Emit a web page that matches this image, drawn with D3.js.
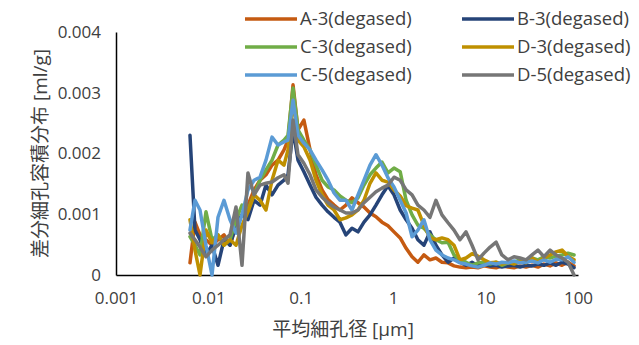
<!DOCTYPE html>
<html>
<head>
<meta charset="utf-8">
<script src="https://cdn.jsdelivr.net/npm/d3@7"></script>
<style>
  body { margin: 0; background: #fff; }
  text { font-family: "Open Sans", "Noto Sans CJK JP", sans-serif; fill: #404040; }
</style>
</head>
<body>
<div id="chart"></div>
<script>
// pore diameter (um), shared by all series
const diameters = [
  0.00632, 0.00716, 0.00811, 0.00942, 0.01094, 0.0127, 0.01475, 0.01713, 0.0199, 0.0231,
  0.0268, 0.0312, 0.0362, 0.042, 0.0488, 0.0567, 0.0658, 0.0727, 0.0824, 0.0933,
  0.108, 0.126, 0.146, 0.170, 0.197, 0.229, 0.265, 0.308, 0.358, 0.416,
  0.483, 0.561, 0.651, 0.756, 0.878, 1.02, 1.19, 1.38, 1.60, 1.85,
  2.15, 2.50, 2.90, 3.37, 3.92, 4.55, 5.28, 6.14, 7.13, 8.28,
  9.61, 11.2, 13.0, 15.0, 17.5, 20.3, 23.6, 27.4, 31.8, 36.9,
  42.8, 49.8, 57.8, 67.1, 78.0, 90.6
];

const seriesNames = ["A-3(degased)", "B-3(degased)", "C-3(degased)", "D-3(degased)", "C-5(degased)", "D-5(degased)"];
const seriesColors = ["#C55A11", "#264478", "#70AD47", "#BF9000", "#5B9BD5", "#767676"];

const a3 = [
  .00020,.00087,.00066,.00058,.00049,.00058,.00066,.00049,.00082,.00099,
  .00115,.00140,.00156,.00165,.00181,.00189,.00206,.00222,.00313,.00239,
  .00255,.00206,.00165,.00140,.00124,.00115,.00107,.00115,.00127,.00119,
  .00112,.00102,.00096,.00087,.00081,.00071,.00061,.00044,.00030,.00021,
  .00033,.00025,.00028,.00021,.00020,.00015,.00013,.00012,.00013,.00012,
  .00015,.00013,.00012,.00015,.00013,.00012,.00015,.00013,.00016,.00013,
  .00018,.00015,.00020,.00016,.00021,.00015
];
const b3 = [
  .00230,.00074,.00058,.00033,.00049,.00016,.00058,.00049,.00082,.00099,
  .00091,.00123,.00115,.00148,.00132,.00148,.00156,.00165,.00239,.00189,
  .00170,.00148,.00128,.00115,.00104,.00095,.00087,.00066,.00077,.00071,
  .00087,.00099,.00115,.00132,.00147,.00132,.00107,.00091,.00077,.00058,
  .00049,.00071,.00049,.00033,.00021,.00028,.00021,.00016,.00021,.00015,
  .00018,.00015,.00016,.00013,.00015,.00016,.00013,.00016,.00015,.00018,
  .00016,.00020,.00016,.00021,.00018,.00012
];
const c3 = [
  .00063,.00049,.00033,.00104,.00058,.00066,.00049,.00058,.00091,.00115,
  .00107,.00132,.00156,.00173,.00189,.00214,.00222,.00230,.00308,.00239,
  .00222,.00206,.00181,.00156,.00145,.00140,.00130,.00123,.00119,.00127,
  .00148,.00165,.00176,.00186,.00168,.00176,.00170,.00123,.00099,.00082,
  .00077,.00066,.00058,.00053,.00054,.00033,.00025,.00021,.00016,.00020,
  .00021,.00018,.00021,.00016,.00020,.00021,.00025,.00021,.00028,.00025,
  .00030,.00028,.00031,.00033,.00036,.00033
];
const d3s = [
  .00091,.00041,.00000,.00074,.00053,.00066,.00049,.00058,.00049,.00082,
  .00104,.00132,.00123,.00107,.00156,.00189,.00181,.00206,.00288,.00222,
  .00211,.00189,.00156,.00132,.00115,.00107,.00091,.00094,.00099,.00107,
  .00123,.00151,.00168,.00156,.00153,.00140,.00130,.00114,.00110,.00107,
  .00082,.00061,.00058,.00061,.00058,.00049,.00025,.00028,.00035,.00031,
  .00025,.00020,.00021,.00018,.00021,.00018,.00023,.00020,.00028,.00021,
  .00028,.00033,.00038,.00041,.00031,.00025
];
const c5 = [
  .00074,.00123,.00107,.00049,.00000,.00095,.00123,.00091,.00069,.00099,
  .00140,.00156,.00161,.00189,.00227,.00214,.00219,.00222,.00288,.00230,
  .00217,.00206,.00189,.00173,.00156,.00135,.00123,.00123,.00107,.00132,
  .00156,.00181,.00198,.00181,.00160,.00145,.00123,.00102,.00063,.00074,
  .00091,.00058,.00041,.00033,.00028,.00025,.00020,.00018,.00015,.00013,
  .00016,.00020,.00018,.00021,.00020,.00023,.00020,.00021,.00023,.00020,
  .00025,.00021,.00026,.00025,.00030,.00021
];
const d5 = [
  .00069,.00058,.00046,.00030,.00041,.00049,.00058,.00066,.00112,.00016,
  .00168,.00132,.00148,.00151,.00153,.00160,.00165,.00151,.00255,.00198,
  .00184,.00165,.00140,.00128,.00119,.00112,.00107,.00102,.00102,.00107,
  .00119,.00128,.00137,.00143,.00148,.00161,.00156,.00140,.00132,.00115,
  .00107,.00095,.00123,.00099,.00086,.00074,.00058,.00071,.00049,.00025,
  .00036,.00046,.00054,.00033,.00025,.00030,.00028,.00025,.00033,.00041,
  .00030,.00041,.00033,.00028,.00021,.00000
];
const seriesValues = [a3, b3, c3, d3s, c5, d5];

const xTicks = [0.001, 0.01, 0.1, 1, 10, 100];
const yTicks = [0, 0.001, 0.002, 0.003, 0.004];

// sizes
const W = 639, H = 345;
const margin = {top: 32, right: 61, bottom: 70, left: 116},
    width = W - margin.left - margin.right,
    height = H - margin.top - margin.bottom;

const svg = d3.select("#chart")
    .append("svg")
    .attr("width", W)
    .attr("height", H);

svg.append("rect").attr("width", W).attr("height", H).attr("fill", "#fff");

const g = svg.append("g")
    .attr("transform", `translate(${margin.left}, ${margin.top})`);

const x = d3.scaleLog().domain([0.001, 100]).range([0, width]);
const y = d3.scaleLinear().domain([0, 0.004]).range([height, 0]);

// axes
const xAxis = g.append("g")
    .attr("transform", `translate(0, ${height})`)
    .call(d3.axisBottom(x).tickValues(xTicks).tickSize(0).tickPadding(17)
        .tickFormat(d => String(d)));
xAxis.select(".domain").attr("stroke", "#000").attr("stroke-width", 1.5);
xAxis.selectAll("text").style("font-size", "17px").attr("fill", "#404040");

const yAxis = g.append("g")
    .call(d3.axisLeft(y).tickValues(yTicks).tickSize(0).tickPadding(15)
        .tickFormat(d => d === 0 ? "0" : d3.format(".3f")(d)));
yAxis.select(".domain").attr("stroke", "#000").attr("stroke-width", 1.5);
yAxis.selectAll("text").style("font-size", "17px").attr("fill", "#404040");

// lines
const line = d3.line()
    .x((d, i) => x(diameters[i]))
    .y(d => y(d));

seriesValues.forEach((vals, k) => {
    g.append("path")
        .datum(vals)
        .attr("fill", "none")
        .attr("stroke", seriesColors[k])
        .attr("stroke-width", 3.5)
        .attr("stroke-linejoin", "round")
        .attr("stroke-linecap", "round")
        .attr("d", line);
});

// legend
const legend = svg.append("g");
seriesNames.forEach((name, k) => {
    const col = k % 2, row = Math.floor(k / 2);
    const lx = col === 0 ? 245 : 462;
    const ly = 19 + row * 28;
    legend.append("line")
        .attr("x1", lx).attr("x2", lx + 52)
        .attr("y1", ly).attr("y2", ly)
        .attr("stroke", seriesColors[k])
        .attr("stroke-width", 3.5);
    legend.append("text")
        .attr("x", lx + 55)
        .attr("y", ly)
        .attr("dy", "0.35em")
        .style("font-size", "18.5px")
        .text(name);
});

// axis titles
svg.append("text")
    .attr("transform", `translate(40, ${margin.top + height / 2}) rotate(-90)`)
    .attr("text-anchor", "middle")
    .attr("dy", "0.35em")
    .style("font-size", "19px")
    .text("差分細孔容積分布 [ml/g]");

svg.append("text")
    .attr("x", 343)
    .attr("y", 329)
    .attr("text-anchor", "middle")
    .attr("dy", "0.35em")
    .style("font-size", "19px")
    .text("平均細孔径 [µm]");
</script>
</body>
</html>
